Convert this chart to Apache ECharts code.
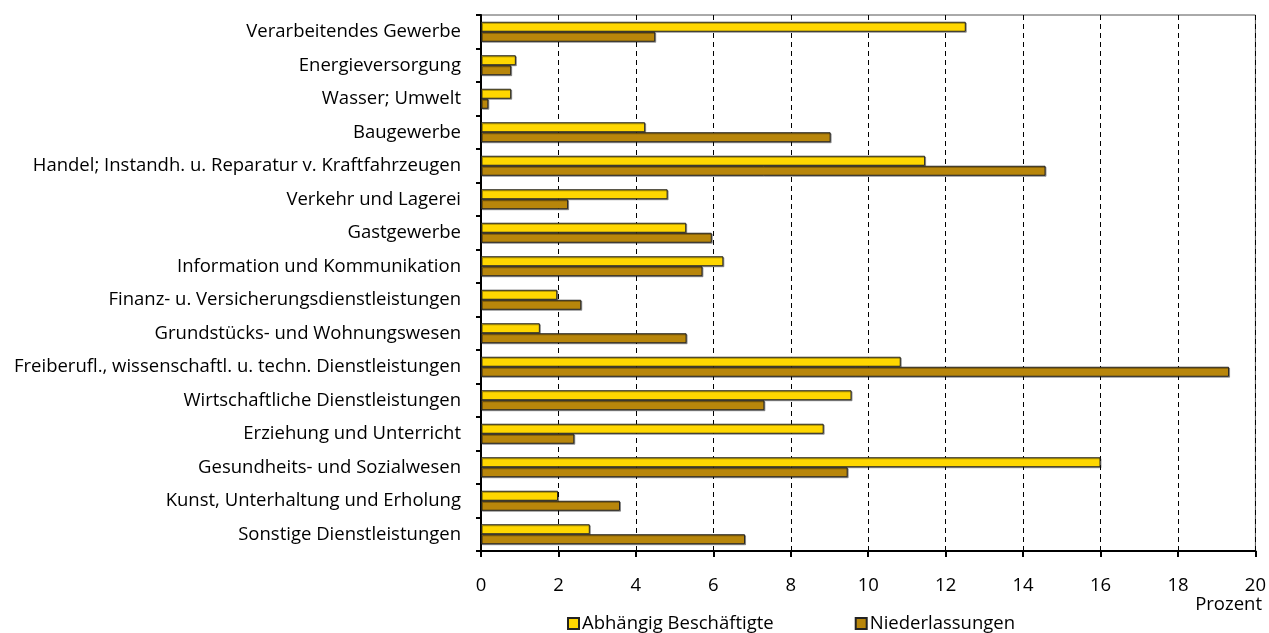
<!DOCTYPE html>
<html>
<head>
<meta charset="utf-8">
<script src="https://cdn.jsdelivr.net/npm/echarts@6/dist/echarts.min.js"></script>
<style>
  html, body { margin: 0; padding: 0; background: #fff; }
  #chart { width: 1269px; height: 633px; }
</style>
</head>
<body>
<div id="chart"></div>
<script>
const categories = [
  'Verarbeitendes Gewerbe',
  'Energieversorgung',
  'Wasser; Umwelt',
  'Baugewerbe',
  'Handel; Instandh. u. Reparatur v. Kraftfahrzeugen',
  'Verkehr und Lagerei',
  'Gastgewerbe',
  'Information und Kommunikation',
  'Finanz- u. Versicherungsdienstleistungen',
  'Grundstücks- und Wohnungswesen',
  'Freiberufl., wissenschaftl. u. techn. Dienstleistungen',
  'Wirtschaftliche Dienstleistungen',
  'Erziehung und Unterricht',
  'Gesundheits- und Sozialwesen',
  'Kunst, Unterhaltung und Erholung',
  'Sonstige Dienstleistungen'
]
const beschaeftigte = [12.52, 0.9, 0.78, 4.24, 11.47, 4.82, 5.3, 6.26, 1.97, 1.52, 10.84, 9.57, 8.85, 16.0, 1.99, 2.81]
const niederlassungen = [4.5, 0.78, 0.19, 9.03, 14.58, 2.25, 5.96, 5.72, 2.59, 5.31, 19.32, 7.32, 2.41, 9.47, 3.59, 6.82]

const font = 'Open Sans'
const fs = 18.5
const chart = echarts.init(document.getElementById('chart'))

function barStyle(color) {
  return {
    color: color,
    borderColor: '#222',
    borderWidth: 1,
    shadowColor: 'rgba(0,0,0,0.35)',
    shadowOffsetX: 1,
    shadowOffsetY: 1
  }
}

chart.setOption({
  animation: false,
  textStyle: { fontFamily: font },
  grid: {
    left: 481, right: 10, top: 15, bottom: 82,
    show: true, borderColor: '#555', borderWidth: 1
  },
  legend: {
    top: 609,
    left: 562,
    itemGap: 81,
    itemWidth: 11,
    itemHeight: 11,
    icon: 'rect',
    textStyle: { fontSize: fs, color: '#000', fontFamily: font, padding: [0, 0, 0, -2] },
    data: ['Abhängig Beschäftigte', 'Niederlassungen']
  },
  graphic: [{
    type: 'text',
    right: 7,
    top: 595,
    style: { text: 'Prozent', fontSize: fs, fill: '#000', fontFamily: font }
  }],
  xAxis: {
    type: 'value',
    min: 0, max: 20, interval: 2,
    axisLine: { show: true, lineStyle: { color: '#000', width: 2 } },
    axisTick: { show: true, length: 6, lineStyle: { color: '#000', width: 2 } },
    axisLabel: { fontSize: fs, color: '#000', margin: 25 },
    splitLine: { show: true, lineStyle: { color: '#000', type: [5, 4], width: 1 } }
  },
  yAxis: {
    type: 'category',
    inverse: true,
    data: categories,
    axisLine: { show: true, lineStyle: { color: '#000', width: 2 } },
    axisTick: { show: true, length: 5, lineStyle: { color: '#000', width: 2 } },
    axisLabel: { fontSize: fs, color: '#000', margin: 20 }
  },
  series: [
    {
      name: 'Abhängig Beschäftigte',
      type: 'bar',
      data: beschaeftigte,
      itemStyle: barStyle('#FFD700'),
      barWidth: 10,
      barGap: '0%',
      barCategoryGap: '40%'
    },
    {
      name: 'Niederlassungen',
      type: 'bar',
      data: niederlassungen,
      itemStyle: barStyle('#B8860B'),
      barWidth: 10,
      barGap: '0%'
    }
  ]
})
</script>
</body>
</html>
